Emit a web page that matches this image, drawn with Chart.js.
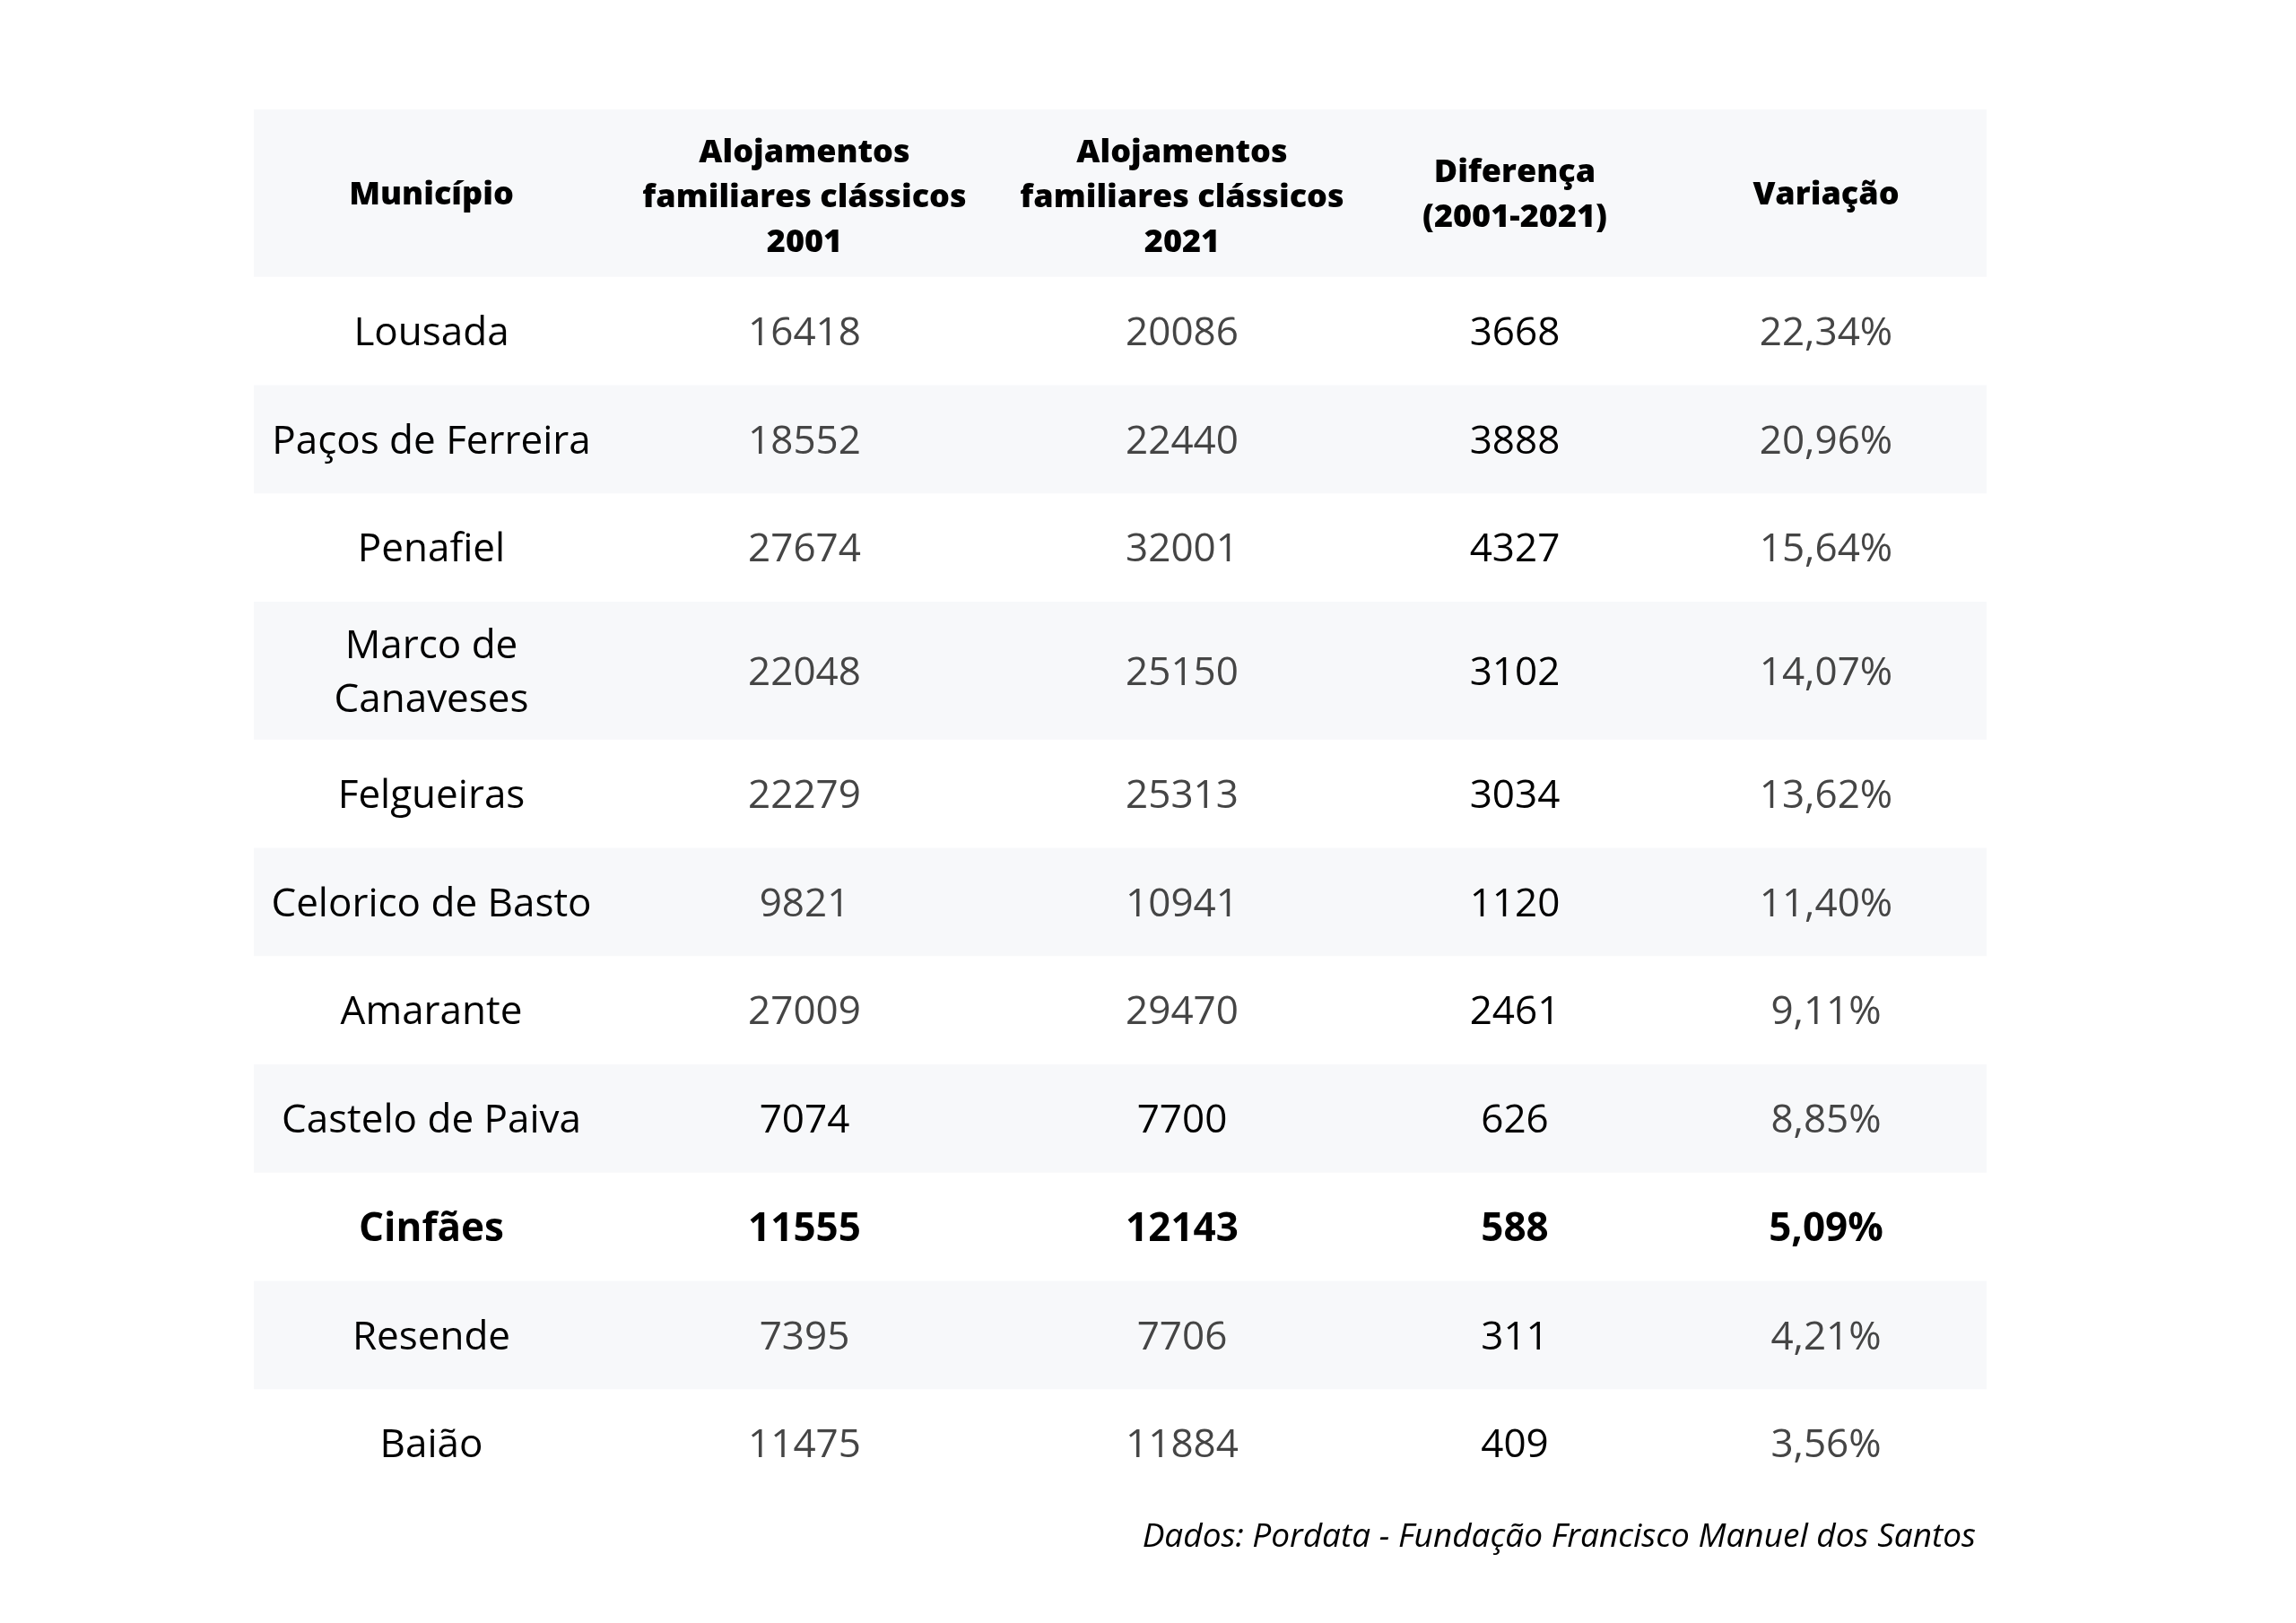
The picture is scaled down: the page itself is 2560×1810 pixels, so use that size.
<!DOCTYPE html>
<html>
<head>
<meta charset="utf-8">
<script src="https://cdn.jsdelivr.net/npm/chart.js@4.4.1/dist/chart.umd.min.js"></script>
<style>
  html, body { margin: 0; padding: 0; background: #ffffff; }
  #wrap { width: 2560px; height: 1810px; }
</style>
</head>
<body>
<div id="wrap"><canvas id="c" width="2560" height="1810"></canvas></div>
<script>
const columnHeaders = [
  'Município',
  ['Alojamentos', 'familiares clássicos', '2001'],
  ['Alojamentos', 'familiares clássicos', '2021'],
  ['Diferença', '(2001-2021)'],
  'Variação'
];
const municipios = [
  'Lousada', 'Paços de Ferreira', 'Penafiel', ['Marco de', 'Canaveses'], 'Felgueiras',
  'Celorico de Basto', 'Amarante', 'Castelo de Paiva', 'Cinfães', 'Resende', 'Baião'
];
const alojamentos2001 = [16418, 18552, 27674, 22048, 22279, 9821, 27009, 7074, 11555, 7395, 11475];
const alojamentos2021 = [20086, 22440, 32001, 25150, 25313, 10941, 29470, 7700, 12143, 7706, 11884];
const diferenca = [3668, 3888, 4327, 3102, 3034, 1120, 2461, 626, 588, 311, 409];
const variacao = [22.34, 20.96, 15.64, 14.07, 13.62, 11.40, 9.11, 8.85, 5.09, 4.21, 3.56];
const destaque = 'Cinfães';
const fonte = 'Dados: Pordata - Fundação Francisco Manuel dos Santos';

// ---- Layout / style settings ----
const colWeights = [396, 436, 406, 336, 358];
const rowBase = 87.7, rowPerLine = 33;
const FONT = "'Open Sans', 'Noto Sans', sans-serif";
const GRAY_BG = '#f7f8fa';
const TXT_DARK = '#000000';
const TXT_GRAY = '#454545';
const bodySize = 44, bodyLine = 60, bodyWeight = 500, boldWeight = 700;
const headSize = 36, headLine = 50, headWeight = 800;
const noteSize = 37;

const asLines = v => Array.isArray(v) ? v : [v];
const fmtPct = v => v.toFixed(2).replace('.', ',') + '%';

// column boundaries (scale units)
const colStart = [];
let acc = 0;
colWeights.forEach(w => { colStart.push(acc); acc += w; });
const xMax = acc;
const colCenter = i => colStart[i] + colWeights[i] / 2;

// row boundaries (scale units): row 0 = header
const headerLines = Math.max(...columnHeaders.map(h => asLines(h).length));
const rowLines = [headerLines].concat(municipios.map(m => asLines(m).length));
const rowStart = [];
acc = 0;
rowLines.forEach(n => { rowStart.push(acc); acc += rowBase + n * rowPerLine; });
const yMax = acc;
const rowCenter = r => rowStart[r] + (rowBase + rowLines[r] * rowPerLine) / 2;

// table cells: one dataset per column
const columnValues = [
  municipios,
  alojamentos2001.map(String),
  alojamentos2021.map(String),
  diferenca.map(String),
  variacao.map(fmtPct)
];
const datasets = columnValues.map((vals, c) => ({
  label: asLines(columnHeaders[c]).join(' '),
  data: vals.map((v, r) => ({ x: colCenter(c), y: rowCenter(r + 1), text: v })),
  pointRadius: 0,
  pointHoverRadius: 0,
  showLine: false
}));

function cellStyle(c, r) {
  const name = asLines(municipios[r]).join(' ');
  if (name === destaque) return { weight: boldWeight, color: TXT_DARK };
  if (c === 0 || c === 3) return { weight: bodyWeight, color: TXT_DARK };
  if ((c === 1 || c === 2) && name === 'Castelo de Paiva') return { weight: bodyWeight, color: TXT_DARK };
  return { weight: bodyWeight, color: TXT_GRAY };
}

function drawLines(ctx, lines, x, yc, size, lh) {
  const n = lines.length;
  const shift = n >= 3 ? 3 : 0;
  lines.forEach((t, i) => {
    const cy = yc + (i - (n - 1) / 2) * lh + shift;
    ctx.fillText(t, x, cy + 0.357 * size);
  });
}

const tablePlugin = {
  id: 'tablePlugin',
  beforeDatasetsDraw(chart) {
    const { ctx, chartArea, scales } = chart;
    ctx.save();
    ctx.fillStyle = GRAY_BG;
    rowLines.forEach((n, r) => {
      if (r % 2 === 0) {
        const y0 = scales.y.getPixelForValue(rowStart[r]);
        const y1 = scales.y.getPixelForValue(rowStart[r] + rowBase + n * rowPerLine);
        ctx.fillRect(chartArea.left, y0, chartArea.right - chartArea.left, y1 - y0);
      }
    });
    ctx.restore();
  },
  afterDatasetsDraw(chart) {
    const { ctx, chartArea, scales } = chart;
    ctx.save();
    ctx.textAlign = 'center';
    ctx.textBaseline = 'alphabetic';
    // header
    ctx.fillStyle = TXT_DARK;
    ctx.font = `${headWeight} ${headSize}px ${FONT}`;
    const hy = scales.y.getPixelForValue(rowCenter(0));
    columnHeaders.forEach((h, c) => {
      drawLines(ctx, asLines(h), scales.x.getPixelForValue(colCenter(c)), hy, headSize, headLine);
    });
    // body cells
    chart.data.datasets.forEach((ds, c) => {
      const meta = chart.getDatasetMeta(c);
      meta.data.forEach((pt, r) => {
        const st = cellStyle(c, r);
        ctx.font = `${st.weight} ${bodySize}px ${FONT}`;
        ctx.fillStyle = st.color;
        drawLines(ctx, asLines(ds.data[r].text), pt.x, pt.y, bodySize, bodyLine);
      });
    });
    // source note
    ctx.font = `italic ${noteSize}px ${FONT}`;
    ctx.fillStyle = TXT_DARK;
    ctx.textAlign = 'right';
    ctx.fillText(fonte, chartArea.right - 12, chartArea.bottom + 55);
    ctx.restore();
  }
};

function build() {
  new Chart(document.getElementById('c'), {
    type: 'scatter',
    data: { datasets },
    options: {
      responsive: false,
      devicePixelRatio: 1,
      animation: false,
      layout: { padding: { left: 283, right: 345, top: 122, bottom: 140 } },
      plugins: { legend: { display: false }, tooltip: { enabled: false } },
      events: [],
      scales: {
        x: { type: 'linear', min: 0, max: xMax, display: false },
        y: { type: 'linear', min: 0, max: yMax, reverse: true, display: false }
      }
    },
    plugins: [tablePlugin]
  });
}

const fontLoads = [
  `${bodyWeight} ${bodySize}px 'Open Sans'`, `${boldWeight} ${bodySize}px 'Open Sans'`,
  `italic ${noteSize}px 'Open Sans'`, `${headWeight} ${headSize}px 'Open Sans'`
].map(f => document.fonts.load(f).catch(() => null));
Promise.all(fontLoads).then(build, build);
</script>
</body>
</html>
